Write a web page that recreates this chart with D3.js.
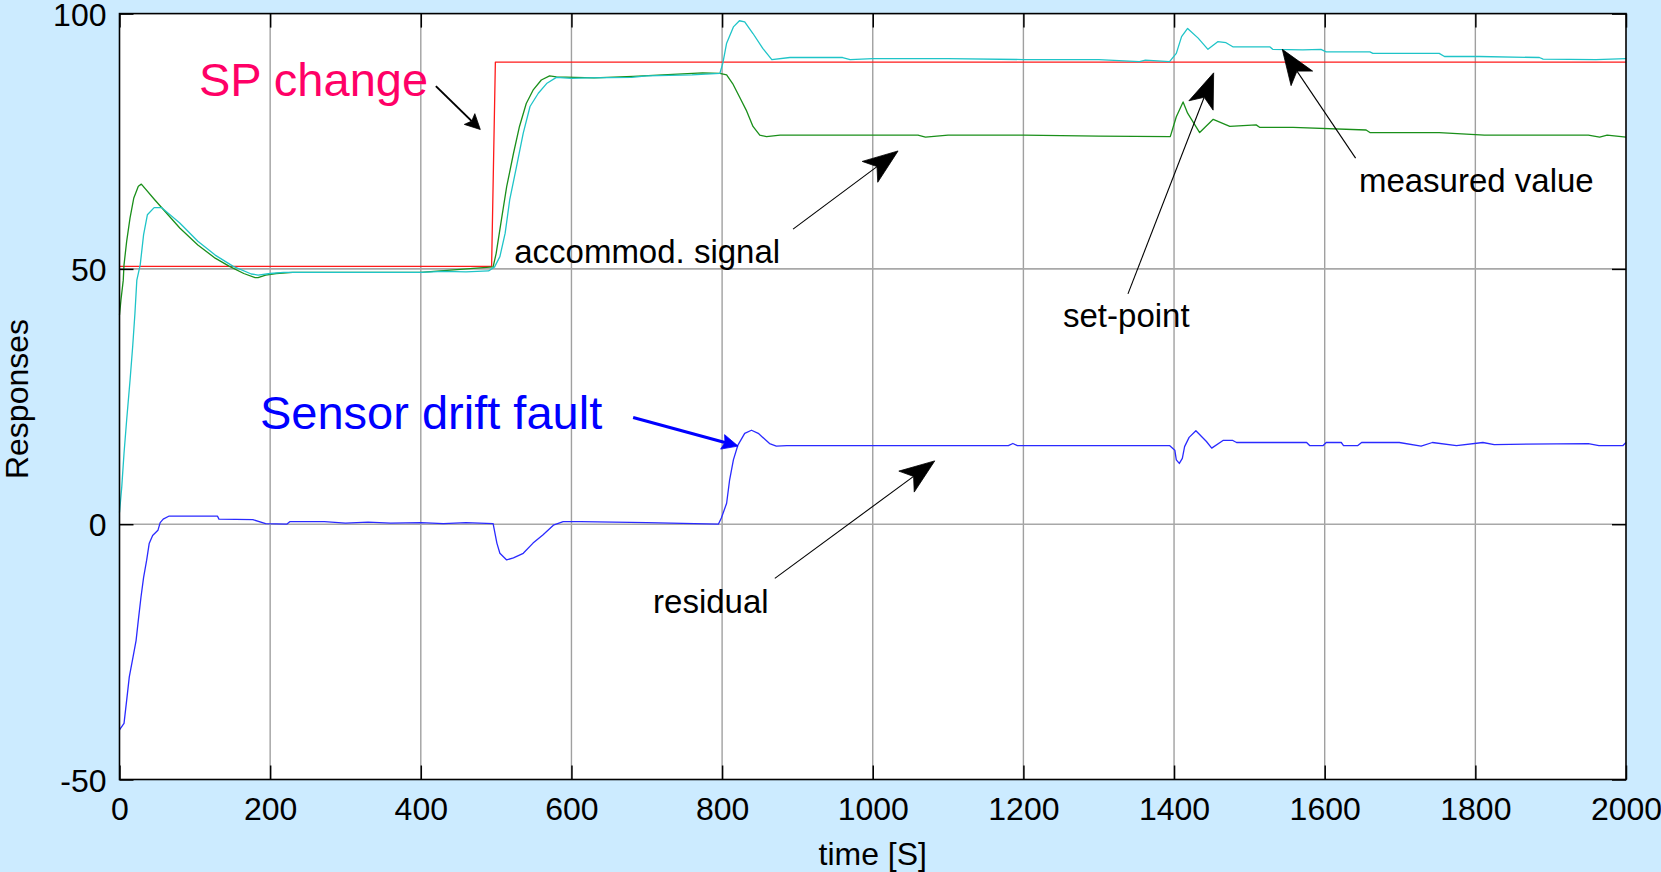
<!DOCTYPE html>
<html>
<head>
<meta charset="utf-8">
<script src="https://cdn.jsdelivr.net/npm/d3@7"></script>
<style>
  html, body { margin: 0; padding: 0; background: #CCEBFF; }
  svg { display: block; }
  text { font-family: "Liberation Sans", Arial, sans-serif; }
</style>
</head>
<body>
<svg id="chart" width="1661" height="872"></svg>
<script>
// ---------------- DATA ----------------
const xTicks = [0, 200, 400, 600, 800, 1000, 1200, 1400, 1600, 1800, 2000];
const yTicks = [-50, 0, 50, 100];
const xLabel = "time [S]";
const yLabel = "Responses";

// set-point (red)
const spTime  = [0, 494, 499, 2000];
const spValue = [50.5, 50.5, 90.5, 90.5];

// measured value (cyan)
const mvTime  = [0, 3, 6, 9.5, 14, 17.5, 20.5, 23, 27.5, 32, 37, 46, 56, 80, 104, 127, 151, 175, 184, 200, 218, 300, 400, 430, 460, 490, 498,
  505, 512, 518, 527, 536, 545, 556, 567, 580, 600, 620, 680, 700, 760, 797, 801, 806, 815, 823, 830, 841, 854, 866, 890, 960, 970, 1000,
  1100, 1200, 1300, 1354, 1362, 1394, 1403, 1410, 1418, 1432, 1445, 1458, 1469, 1478, 1527, 1531, 1571, 1595, 1602, 1660, 1664, 1752,
  1759, 1805, 1885, 1890, 1960, 2000];
const mvValue = [2.3, 7.3, 13.9, 20.4, 28.2, 34.8, 41.3, 47.8, 50.8, 56.7, 60.6, 62, 62, 59, 55.4, 52.7, 50.5, 49, 48.8, 49.1, 49.3, 49.3, 49.3, 49.5, 49.4, 49.6, 50.4,
  52.4, 57, 63.5, 70, 76.6, 81.8, 84.4, 86.3, 87.5, 87.3, 87.4, 87.5, 87.8, 88, 88.3, 90.3, 94.2, 97.4, 98.6, 98.4, 96.1, 93.2, 91, 91.4, 91.4, 91.0, 91.2,
  91.2, 91.0, 91.0, 90.6, 90.9, 90.6, 92.2, 95.5, 97.1, 95.2, 93, 94.5, 94.3, 93.5, 93.5, 93, 92.9, 93, 92.5, 92.5, 92.2, 92.2,
  91.6, 91.6, 91.4, 91.1, 91, 91.2];

// accommodated signal (green)
const acTime  = [0, 2, 5, 6, 9.5, 14, 19, 25, 29, 47, 80, 104, 127, 146, 165, 180, 184, 194, 208, 230, 300, 400, 496,
  500, 507, 514, 523, 531, 540, 549, 560, 571, 580, 630, 682, 774, 797, 806, 814, 823, 832, 841, 850, 859, 877, 1000, 1060, 1070,
  1100, 1200, 1300, 1395, 1403, 1412, 1418, 1434, 1452, 1474, 1509, 1514, 1558, 1655, 1660, 1752, 1812, 1950, 1965, 1975, 2000];
const acValue = [41, 44, 47.8, 50.8, 55.4, 60, 63.9, 66.2, 66.6, 63.5, 58, 54.7, 52.1, 50.5, 49.1, 48.3, 48.3, 48.8, 49.1, 49.3, 49.3, 49.3, 50.4,
  53, 59.6, 66.1, 72.6, 77.9, 82.4, 85, 87, 87.8, 87.6, 87.4, 87.7, 88.4, 88.3, 88, 86.3, 83.7, 81.1, 77.9, 76.2, 75.9, 76.2, 76.2, 76.2, 75.8,
  76.2, 76.2, 76.0, 75.9, 79.8, 82.7, 80.5, 76.7, 79.3, 77.9, 78.2, 77.7, 77.7, 77.2, 76.7, 76.7, 76.2, 76.2, 75.8, 76.2, 75.8];

// residual (blue)
const rsTime  = [0, 6, 9.5, 13, 18, 22, 25, 28.5, 32, 36, 39.4, 44, 51, 54, 58, 66, 130, 132, 177, 194, 222, 226, 272, 300, 330, 360, 400, 430, 460, 496,
  501, 505, 514, 523, 536, 549, 562, 576, 589, 612, 700, 795, 799, 806, 810, 815, 821, 830, 839, 848, 863, 872, 886, 1180, 1186, 1192,
  1394, 1401, 1403, 1407, 1411, 1414, 1420, 1429, 1443, 1450, 1465, 1478, 1483, 1576, 1580, 1598, 1602, 1622, 1625, 1644, 1649, 1699,
  1728, 1743, 1775, 1810, 1825, 1950, 1964, 1996, 2000];
const rsValue = [-40.3, -39, -34.5, -29.9, -26, -22.8, -18.8, -14.3, -10.4, -7.1, -3.8, -2.2, -1.2, 0.3, 1, 1.6, 1.6, 1.0, 0.9, 0.1, 0, 0.5, 0.5, 0.2, 0.4, 0.2, 0.3, 0.1, 0.3, 0.1,
  -3.7, -5.7, -7, -6.6, -5.7, -3.7, -2.1, -0.2, 0.5, 0.5, 0.3, 0, 1.2, 4.1, 8.7, 12.6, 15.5, 17.8, 18.4, 17.8, 15.8, 15.3, 15.4, 15.4, 15.8, 15.4,
  15.4, 14.5, 12.6, 11.9, 12.9, 15.2, 17, 18.3, 16.2, 14.9, 16.4, 16.4, 16, 16, 15.4, 15.4, 16, 16, 15.4, 15.4, 16, 16,
  15.3, 16, 15.4, 16, 15.6, 15.8, 15.4, 15.4, 16];

// annotation texts
const annotationTexts = ["SP change", "accommod. signal", "measured value", "set-point", "residual", "Sensor drift fault"];

// ---------------- DRAW ----------------
const W = 1661, H = 872;
const L = 119.5, R = 1626, T = 13.6, B = 779.5;
const svg = d3.select("#chart");
const x = d3.scaleLinear().domain([0, 2000]).range([L, R]);
const y = d3.scaleLinear().domain([-50, 100]).range([B, T]);

svg.append("rect").attr("width", W).attr("height", H).attr("fill", "#CCEBFF");
svg.append("rect").attr("x", L).attr("y", T).attr("width", R - L).attr("height", B - T).attr("fill", "#ffffff");

// grid
const grid = svg.append("g");
grid.selectAll("line.v").data(xTicks.slice(1, -1)).join("line")
  .attr("x1", d => x(d)).attr("x2", d => x(d)).attr("y1", T).attr("y2", B)
  .attr("stroke", "#a0a0a0").attr("stroke-width", 1.4);
grid.selectAll("line.h").data(yTicks.slice(1, -1)).join("line")
  .attr("x1", L).attr("x2", R).attr("y1", d => y(d)).attr("y2", d => y(d))
  .attr("stroke", "#a8a8a8").attr("stroke-width", 1.6);

// series
const line = d3.line().x(d => x(d[0])).y(d => y(d[1]));
function series(ts, vs, color) {
  svg.append("path").datum(ts.map((t, i) => [t, vs[i]]))
    .attr("d", line).attr("fill", "none").attr("stroke", color)
    .attr("stroke-width", 1.3).attr("stroke-linejoin", "round");
}
series(spTime, spValue, "#ff1a1a");
series(acTime, acValue, "#1a8f1a");
series(mvTime, mvValue, "#1fc4c8");
series(rsTime, rsValue, "#2a2aff");

// axes
const fs = 32;
const fmt = d => String(d);
const ax = svg.append("g").attr("transform", `translate(0,${B})`)
  .call(d3.axisBottom(x).tickValues(xTicks).tickSize(-14).tickPadding(18).tickFormat(fmt));
const ay = svg.append("g").attr("transform", `translate(${L},0)`)
  .call(d3.axisLeft(y).tickValues(yTicks).tickSize(-14).tickPadding(13).tickFormat(fmt));
const at = svg.append("g").attr("transform", `translate(0,${T})`)
  .call(d3.axisTop(x).tickValues(xTicks).tickSize(-14).tickFormat(""));
const ar = svg.append("g").attr("transform", `translate(${R},0)`)
  .call(d3.axisRight(y).tickValues(yTicks).tickSize(-14).tickFormat(""));
[ax, ay, at, ar].forEach(g => {
  g.select(".domain").remove();
  g.selectAll(".tick line").attr("stroke", "#000").attr("stroke-width", 1.5);
  g.selectAll(".tick text").attr("fill", "#000").style("font-size", fs + "px")
    .style("font-family", '"Liberation Sans", Arial, sans-serif');
});
ay.selectAll(".tick text").attr("dy", "0.36em");

// box
svg.append("rect").attr("x", L).attr("y", T).attr("width", R - L).attr("height", B - T)
  .attr("fill", "none").attr("stroke", "#000").attr("stroke-width", 1.6);

// axis labels
svg.append("text").attr("x", (L + R) / 2).attr("y", 865).attr("text-anchor", "middle")
  .style("font-size", "32px").attr("fill", "#000").text(xLabel);
svg.append("text").attr("transform", "translate(28,399) rotate(-90)").attr("text-anchor", "middle")
  .style("font-size", "32px").attr("fill", "#000").text(yLabel);

// annotations
function arrow(t1, v1, t2, v2, len, wid, notch, color, lw) {
  const x1 = x(t1), y1 = y(v1), x2 = x(t2), y2 = y(v2);
  const dx = x2 - x1, dy = y2 - y1, d = Math.hypot(dx, dy);
  const ux = dx / d, uy = dy / d, nx = -uy, ny = ux;
  const bx = x2 - ux * len, by = y2 - uy * len;
  const kx = x2 - ux * len * (1 - notch), ky = y2 - uy * len * (1 - notch);
  svg.append("line").attr("x1", x1).attr("y1", y1).attr("x2", kx).attr("y2", ky)
    .attr("stroke", color).attr("stroke-width", lw);
  const p = d3.path();
  p.moveTo(x2, y2);
  p.lineTo(bx + nx * wid / 2, by + ny * wid / 2);
  p.lineTo(kx, ky);
  p.lineTo(bx - nx * wid / 2, by - ny * wid / 2);
  p.closePath();
  svg.append("path").attr("d", p.toString()).attr("fill", color).attr("stroke", color).attr("stroke-width", 0.8);
}
function label(txt, t, v, size, color) {
  svg.append("text").attr("x", x(t)).attr("y", y(v)).style("font-size", size + "px")
    .attr("fill", color).text(txt);
}

label(annotationTexts[0], 105.5, 83.9, 47, "#ff0066");
arrow(420, 85.8, 479, 77.3, 15, 15, 0.2, "#000", 2);

label(annotationTexts[1], 524, 51.2, 33, "#000");
arrow(894.2, 57.8, 1033.6, 73.1, 35, 26, 0.25, "#000", 1.1);

label(annotationTexts[2], 1645.4, 65.1, 33, "#000");
arrow(1641, 71.7, 1543.7, 93, 35, 26, 0.25, "#000", 1.1);

label(annotationTexts[3], 1252.6, 38.7, 33, "#000");
arrow(1338.8, 45.1, 1452.6, 88.4, 35, 26, 0.25, "#000", 1.1);

label(annotationTexts[4], 708.4, -17.3, 33, "#000");
arrow(870, -10.6, 1082.3, 12.4, 35, 26, 0.25, "#000", 1.1);

label(annotationTexts[5], 186.5, 18.6, 47, "#0000ff");
arrow(681.9, 20.9, 821.2, 15.3, 16, 15, 0.15, "#0000ff", 3);
</script>
</body>
</html>
